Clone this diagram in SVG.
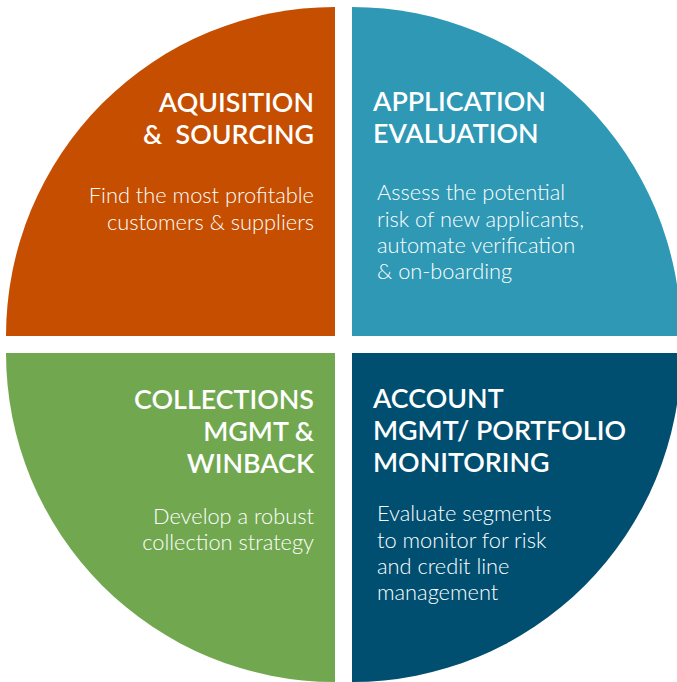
<svg xmlns="http://www.w3.org/2000/svg" width="677" height="682" viewBox="0 0 677 682">
<style>
.t{font-family:Lato,"Liberation Sans",sans-serif;font-weight:600;font-size:26.8px;fill:#fff}
.b{font-family:Lato,"Liberation Sans",sans-serif;font-weight:300;font-size:21.8px;fill:#fff}
.r{text-anchor:end}
</style>
<rect width="677" height="682" fill="#fff"/>
<g id="acquisition">
<path d="M335,336 L6,336 A329,329 0 0 1 335,7 Z" fill="#C54E00"/>
<text class="t r" x="314" y="112">AQUISITION</text>
<text class="t r" x="314" y="144" xml:space="preserve">&amp;  SOURCING</text>
<text class="b r" x="314" y="203">Find the most profitable</text>
<text class="b r" x="314" y="230">customers &amp; suppliers</text>
</g>
<g id="application">
<path d="M352,336 L352,7 A329,329 0 0 1 681,336 Z" fill="#2E98B5"/>
<text class="t" x="373" y="111">APPLICATION</text>
<text class="t" x="373" y="143">EVALUATION</text>
<text class="b" x="377" y="200">Assess the potential</text>
<text class="b" x="377" y="227">risk of new applicants,</text>
<text class="b" x="377" y="253">automate verification</text>
<text class="b" x="377" y="279">&amp; on-boarding</text>
</g>
<g id="collections">
<path d="M335,353 L335,682 A329,329 0 0 1 6,353 Z" fill="#71A84F"/>
<text class="t r" x="314" y="409">COLLECTIONS</text>
<text class="t r" x="314" y="441">MGMT &amp;</text>
<text class="t r" x="314" y="473">WINBACK</text>
<text class="b r" x="314" y="524">Develop a robust</text>
<text class="b r" x="314" y="550">collection strategy</text>
</g>
<g id="account">
<path d="M352,353 L681,353 A329,329 0 0 1 352,682 Z" fill="#004F71"/>
<text class="t" x="373" y="408">ACCOUNT</text>
<text class="t" x="373" y="440">MGMT/ PORTFOLIO</text>
<text class="t" x="373" y="472">MONITORING</text>
<text class="b" x="377" y="521">Evaluate segments</text>
<text class="b" x="377" y="548">to monitor for risk</text>
<text class="b" x="377" y="574">and credit line</text>
<text class="b" x="377" y="600">management</text>
</g>
</svg>
